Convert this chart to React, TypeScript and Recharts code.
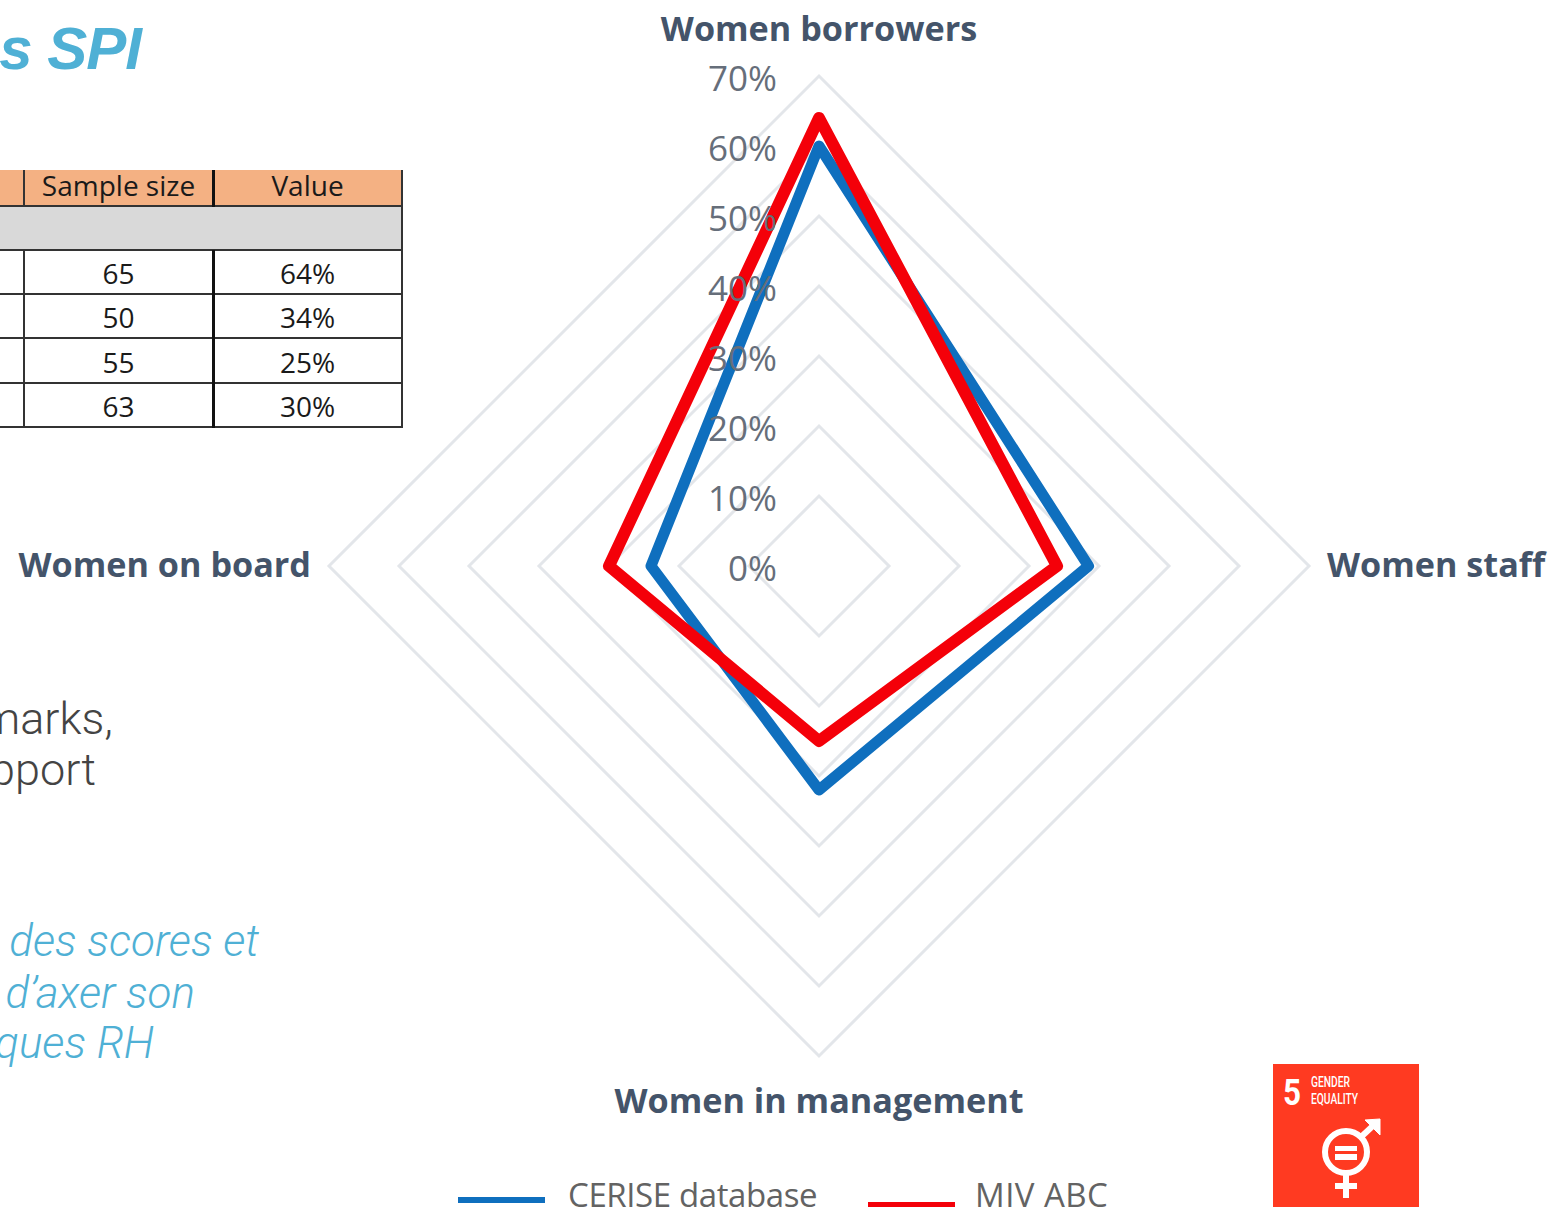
import { RadarChart, Radar, PolarGrid, PolarAngleAxis, PolarRadiusAxis, Legend } from 'recharts'

const categories = ['Women borrowers', 'Women staff', 'Women in management', 'Women on board']
const ceriseValues = [60, 38.5, 32, 24]
const mivValues = [64, 34, 25, 30]
const radiusTicks = [0, 10, 20, 30, 40, 50, 60, 70]
const sampleSizes = [65, 50, 55, 63]
const tableValues = ['64%', '34%', '25%', '30%']

const data = categories.map((name, i) => ({
  name,
  cerise: ceriseValues[i],
  miv: mivValues[i],
}))

const BLUE = '#0f6fbe'
const RED = '#f40009'
const LIGHT_BLUE = '#4fb0d5'
const SANS = '"Open Sans", sans-serif'

function AngleTick({ x, y, payload, textAnchor }: any) {
  let dx = 0
  let dy = 0
  if (textAnchor === 'start') dx = 10
  if (textAnchor === 'end') dx = -10
  if (payload.value === 'Women borrowers') dy = -27
  if (payload.value === 'Women in management') dy = 49
  if (textAnchor !== 'middle') dy = 11
  return (
    <text
      x={x + dx}
      y={y + dy}
      textAnchor={textAnchor}
      fontFamily={SANS}
      fontWeight={700}
      fontSize={34.2}
      fill="#44546a"
    >
      {payload.value}
    </text>
  )
}

function RadiusTick({ x, y, payload }: any) {
  return (
    <text x={x - 42} y={y + 15} textAnchor="end" fontFamily={SANS} fontSize={35} fill="#666e7a">
      {payload.value}%
    </text>
  )
}

function LegendRow({ payload }: any) {
  const lefts = [458, 868]
  const lineTops = [1197, 1202]
  const textLefts = [568, 975]
  const spacing = [-0.4, 0.45]
  return (
    <div>
      {(payload || []).map((item: any, i: number) => (
        <div key={item.value}>
          <div
            style={{
              position: 'absolute',
              left: lefts[i],
              top: lineTops[i],
              width: 87,
              height: 6,
              background: item.color,
            }}
          />
          <div
            style={{
              position: 'absolute',
              left: textLefts[i],
              top: 1172,
              fontFamily: SANS,
              fontSize: 33,
              letterSpacing: spacing[i],
              lineHeight: '46px',
              color: '#636363',
              whiteSpace: 'nowrap',
            }}
          >
            {item.value}
          </div>
        </div>
      ))}
    </div>
  )
}

function Note({ text, right, top, size, color, italic, weight, font, spacing }: any) {
  return (
    <div
      style={{
        position: 'absolute',
        right: 1552 - right,
        top,
        fontFamily: font,
        fontSize: size,
        lineHeight: `${size + 6}px`,
        fontStyle: italic ? 'italic' : 'normal',
        fontWeight: weight,
        letterSpacing: spacing || 0,
        color,
        whiteSpace: 'nowrap',
      }}
    >
      {text}
    </div>
  )
}

function ScoreTable() {
  const cell = {
    position: 'absolute',
    textAlign: 'center',
    fontFamily: SANS,
    fontSize: 28,
    color: '#1a1a1a',
  } as const
  const rowTops = [250, 294, 339, 383]
  const line = '2px solid #333'
  return (
    <div style={{ position: 'absolute', left: 0, top: 0 }}>
      <div style={{ position: 'absolute', left: 0, top: 206, width: 402, height: 43, background: '#d9d9d9', borderBottom: line }} />
      <div style={{ position: 'absolute', left: 0, top: 170, width: 402, height: 35, background: '#f4b183', borderBottom: line }} />
      <div style={{ ...cell, left: 24, top: 167, width: 189, lineHeight: '36px' }}>Sample size</div>
      <div style={{ ...cell, left: 213, top: 167, width: 189, lineHeight: '36px' }}>Value</div>
      {sampleSizes.map((size, i) => (
        <div key={i}>
          <div style={{ position: 'absolute', left: 0, top: rowTops[i] + 43, width: 402, height: 0, borderBottom: line }} />
          <div style={{ ...cell, left: 24, top: rowTops[i] + 1, width: 189, lineHeight: '44px' }}>{size}</div>
          <div style={{ ...cell, left: 213, top: rowTops[i] + 1, width: 189, lineHeight: '44px' }}>{tableValues[i]}</div>
        </div>
      ))}
      <div style={{ position: 'absolute', left: 23, top: 170, width: 0, height: 37, borderLeft: line }} />
      <div style={{ position: 'absolute', left: 23, top: 250, width: 0, height: 178, borderLeft: line }} />
      <div style={{ position: 'absolute', left: 212, top: 170, width: 0, height: 37, borderLeft: '3px solid #111' }} />
      <div style={{ position: 'absolute', left: 212, top: 250, width: 0, height: 178, borderLeft: '3px solid #111' }} />
      <div style={{ position: 'absolute', left: 401, top: 170, width: 0, height: 258, borderLeft: line }} />
    </div>
  )
}

function GenderBadge() {
  return (
    <svg style={{ position: 'absolute', left: 1273, top: 1064 }} width={146} height={143}>
      <rect width={146} height={143} fill="#ff3a21" />
      <text x={19} y={41} textAnchor="middle" fontFamily="Roboto" fontWeight={700} fontSize={37} fill="#fff" transform="translate(3 0) scale(0.85 1)">
        5
      </text>
      <text x={38} y={23} fontFamily="Roboto" fontWeight={500} fontSize={14} fill="#fff" textLength={39} lengthAdjust="spacingAndGlyphs">
        GENDER
      </text>
      <text x={38} y={40} fontFamily="Roboto" fontWeight={500} fontSize={14} fill="#fff" textLength={47} lengthAdjust="spacingAndGlyphs">
        EQUALITY
      </text>
      <g fill="none" stroke="#fff" strokeWidth={6}>
        <circle cx={73} cy={88} r={21} />
        <path d="M88 73 L103 59" />
        <path d="M73 109 L73 134 M62 122 L84 122" />
      </g>
      <path d="M92 56 L107 55 L107 71 Z" fill="#fff" stroke="#fff" strokeWidth={1} />
      <path d="M62 82 H84 V87 H62 Z M62 90 H84 V96 H62 Z" fill="#fff" />
    </svg>
  )
}

export default function App() {
  return (
    <div style={{ position: 'absolute', left: 0, top: 0, width: 1552, height: 1207, overflow: 'hidden', background: '#fff' }}>
      <Note text="des SPI" right={141} top={16} size={60} color={LIGHT_BLUE} italic weight={700} spacing={-1} font='"Liberation Sans", sans-serif' />
      <ScoreTable />
      <Note text="benchmarks," right={113} top={693} size={45} color="#444444" weight={300} font="Roboto, sans-serif" />
      <Note text="support" right={96} top={744} size={45} color="#444444" weight={300} font="Roboto, sans-serif" />
      <Note text="des scores et" right={259} top={916} size={44} color={LIGHT_BLUE} italic weight={300} font="Roboto, sans-serif" />
      <Note text="d’axer son" right={195} top={968} size={44} color={LIGHT_BLUE} italic weight={300} font="Roboto, sans-serif" />
      <Note text="pratiques RH" right={154} top={1018} size={44} color={LIGHT_BLUE} italic weight={300} font="Roboto, sans-serif" />

      <div style={{ position: 'absolute', left: 0, top: 0 }}>
        <RadarChart
          width={1552}
          height={1207}
          data={data}
          cx={819}
          cy={566}
          outerRadius={490}
          margin={{ top: 0, right: 0, bottom: 0, left: 0 }}
        >
          <PolarGrid gridType="polygon" radialLines={false} stroke="#e3e6ea" strokeWidth={3} />
          <PolarAngleAxis dataKey="name" tick={AngleTick} tickLine={false} axisLine={false} />
          <PolarRadiusAxis
            angle={90}
            domain={[0, 70]}
            ticks={radiusTicks}
            tick={RadiusTick}
            tickLine={false}
            axisLine={false}
          />
          <Radar name="CERISE database" dataKey="cerise" stroke={BLUE} strokeWidth={11} fill="none" strokeLinejoin="round" dot={false} isAnimationActive={false} />
          <Radar name="MIV ABC" dataKey="miv" stroke={RED} strokeWidth={12} fill="none" strokeLinejoin="round" dot={false} isAnimationActive={false} />
          <Legend content={LegendRow} wrapperStyle={{ left: 0, top: 0, bottom: 'auto', width: 0, height: 0 }} />
        </RadarChart>
      </div>
      <GenderBadge />
    </div>
  )
}
